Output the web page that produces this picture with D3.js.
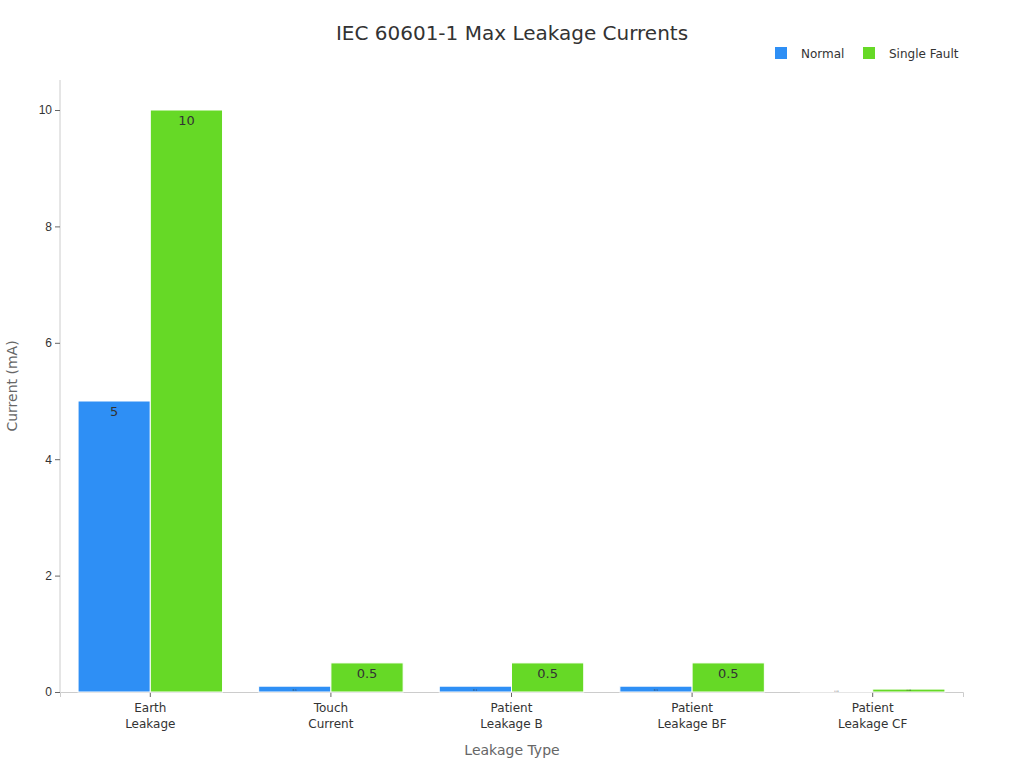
<!DOCTYPE html><html><head><script src="https://cdn.jsdelivr.net/npm/d3@7"></script>
<style>body{margin:0;background:#fff;font-family:"DejaVu Sans",sans-serif}</style></head><body>
<svg id="c" width="1024" height="768"></svg>
<script>
const categories=[["Earth","Leakage"],["Touch","Current"],["Patient","Leakage B"],["Patient","Leakage BF"],["Patient","Leakage CF"]];
const seriesNames=["Normal","Single Fault"];
const normal=[5,0.1,0.1,0.1,0.01];
const fault=[10,0.5,0.5,0.5,0.05];
const yTicks=[0,2,4,6,8,10];
const colors=["#2e8ff5","#66d926"];
const svg=d3.select("#c");
const m={l:60,r:963,t:110,b:692};
const x=d3.scaleBand().domain(d3.range(5)).range([m.l,m.r]).paddingInner(0.2).paddingOuter(0.1);
const x1=d3.scaleBand().domain([0,1]).range([0,x.bandwidth()]);
const y=d3.scaleLinear().domain([0,10]).range([m.b,m.t]);
svg.append("text").attr("x",512).attr("y",40).attr("text-anchor","middle").attr("font-size",20).attr("fill","#333").text("IEC 60601-1 Max Leakage Currents");
const ya=svg.append("g").attr("transform",`translate(${m.l},0)`).call(d3.axisLeft(y).tickValues(yTicks).tickSize(5));
ya.select(".domain").attr("stroke","#ccc").attr("d",`M-0,${m.b}V80`);
ya.selectAll("line").attr("stroke","#666");
ya.selectAll("text").attr("font-size",12).attr("fill","#333");
const xa=svg.append("g").attr("transform",`translate(0,${m.b})`).call(d3.axisBottom(x).tickSize(5).tickFormat(""));
xa.select(".domain").attr("stroke","#ccc");
xa.selectAll("line").attr("stroke","#666");
categories.forEach((c,i)=>{c.forEach((t,j)=>svg.append("text").attr("x",x(i)+x.bandwidth()/2).attr("y",m.b+20+j*16).attr("text-anchor","middle").attr("font-size",12).attr("fill","#333").text(t));});
[normal,fault].forEach((s,k)=>{
 s.forEach((v,i)=>{
  const bx=x(i)+x1(k),by=y(v),h=m.b-by;
  svg.append("rect").attr("x",bx).attr("y",by).attr("width",x1.bandwidth()).attr("height",h).attr("fill",colors[k]).attr("stroke","#fff").attr("stroke-width",1);
  const fs=Math.max(2,Math.min(13,h*0.45));
  svg.append("text").attr("x",bx+x1.bandwidth()/2).attr("y",by+Math.min(h*0.75,15)).attr("text-anchor","middle").attr("font-size",fs).attr("fill","#333").text(v);
 });
});
svg.append("text").attr("transform",`translate(17,${(m.t+m.b)/2-15}) rotate(-90)`).attr("text-anchor","middle").attr("font-size",14).attr("fill","#666").text("Current (mA)");
svg.append("text").attr("x",512).attr("y",755).attr("text-anchor","middle").attr("font-size",14).attr("fill","#666").text("Leakage Type");
const lg=[[775,"Normal"],[863,"Single Fault"]];
lg.forEach(([lx,t],k)=>{svg.append("rect").attr("x",lx).attr("y",47).attr("width",12).attr("height",12).attr("fill",colors[k]);
svg.append("text").attr("x",lx+26).attr("y",58).attr("font-size",12).attr("fill","#333").text(t);});
</script></body></html>
